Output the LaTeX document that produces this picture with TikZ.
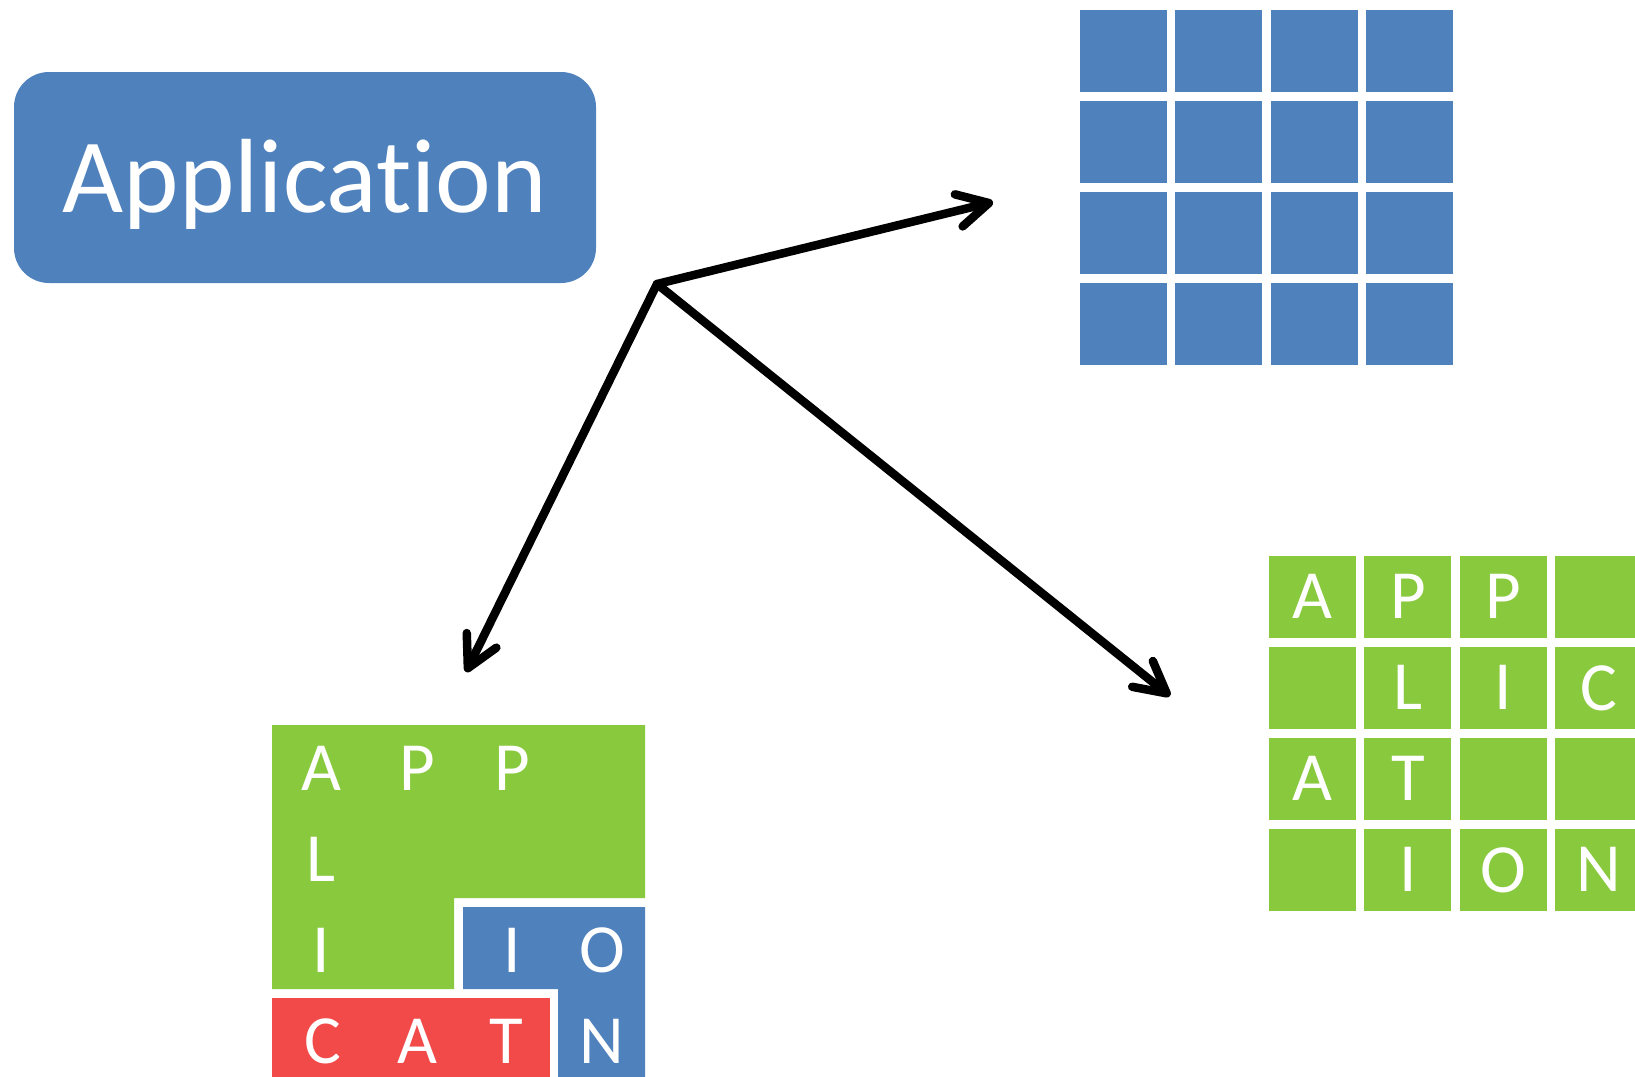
\documentclass[tikz,border=0pt]{standalone}
\usepackage{fontspec}
\setmainfont{Carlito}[Ligatures={TeX,NoCommon}]
\usetikzlibrary{arrows.meta}
\definecolor{appblue}{RGB}{79,129,189}
\definecolor{appgreen}{RGB}{137,201,62}
\definecolor{appred}{RGB}{242,73,73}
\tikzset{
  cell/.style={rectangle, inner sep=0pt, outer sep=0pt, minimum width=87pt,
    minimum height=81.7pt, anchor=north west, text=white,
    font=\fontsize{69}{69}\selectfont},
  bluecell/.style={cell, fill=appblue},
  greencell/.style={cell, fill=appgreen},
  letter/.style={text=white, inner sep=0pt, anchor=base,
    font=\fontsize{69}{69}\selectfont},
  link/.style={line width=8.5pt, line cap=round, line join=round,
    -{Straight Barb[length=31pt,width=33pt,line cap=round,line join=round]}}
}
\begin{document}
\begin{tikzpicture}[x=1pt,y=-1pt]
\useasboundingbox (0,0) rectangle (1635,1076);
\clip (0,0) rectangle (1635,1076);

% the word as one block
\node[rectangle, rounded corners=35pt, fill=appblue, minimum width=582pt,
  minimum height=211pt, inner sep=0pt] (app) at (305,177.5) {};
\node[text=white, inner sep=0pt, anchor=base,
  font=\fontsize{105.5}{105.5}\selectfont] (applabel) at (305,212) {Application};

% uniform grid of blue blocks
\foreach \c in {0,1,2,3}
  \foreach \r in {0,1,2,3}
    \node[bluecell] (b-\r-\c) at ({1080+95.33*\c},{10+91*\r}) {};

% grid of green blocks holding the letters
\foreach \r/\row in {0/{A,P,P,{}},1/{{},L,I,C},2/{A,T,{},{}},3/{{},I,O,N}} {
  \foreach \ch [count=\c from 0] in \row
    \node[greencell] (g-\r-\c) at ({1269+95.33*\c},{556+91*\r}) {\ch};
}

% irregular split of the letters
\fill[appgreen] (272,725) -- (645,725) -- (645,898) -- (454,898)
  -- (454,989) -- (272,989) -- cycle;
\fill[appblue] (463,907) -- (645,907) -- (645,1080) -- (558,1080)
  -- (558,989) -- (463,989) -- cycle;
\fill[appred] (272,998) -- (550,998) -- (550,1080) -- (272,1080) -- cycle;

\node[letter] (sA1) at (321,790) {A};
\node[letter] (sP1) at (417,790) {P};
\node[letter] (sP2) at (512,790) {P};
\node[letter] (sL)  at (321,881) {L};
\node[letter] (sI1) at (321,972) {I};
\node[letter] (sI2) at (512,972) {I};
\node[letter] (sO)  at (602,972) {O};
\node[letter] (sC)  at (323,1063) {C};
\node[letter] (sA2) at (417,1063) {A};
\node[letter] (sT)  at (506,1063) {T};
\node[letter] (sN)  at (602,1063) {N};

% arrows fanning out from one point
\coordinate (hub) at (657,284);
\coordinate (toGrid) at (993,202);
\coordinate (toSplit) at (466,672);
\coordinate (toCells) at (1170,696);
\draw[link] (hub) -- (toGrid);
\draw[link] (hub) -- (toSplit);
\draw[link] (hub) -- (toCells);
\end{tikzpicture}
\end{document}
